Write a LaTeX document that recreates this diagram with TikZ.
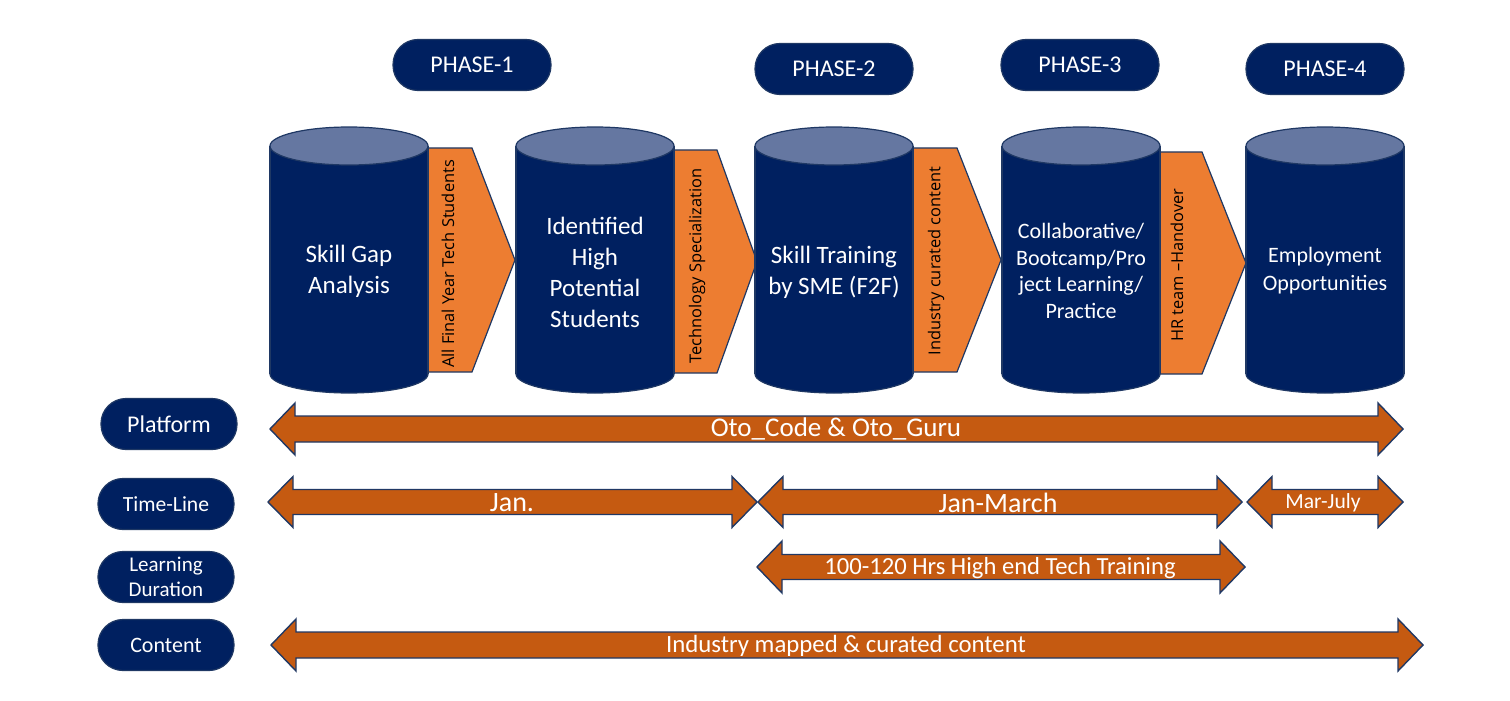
\documentclass[tikz,border=0pt]{standalone}
\usepackage{fontspec}
\setmainfont{Carlito}
\newfontfamily\rotfont{Open Sans}
\definecolor{navy}{HTML}{002060}
\definecolor{cylborder}{HTML}{1F3864}
\definecolor{cyltop}{HTML}{6577A1}
\definecolor{chevfill}{HTML}{ED7D31}
\definecolor{arrfill}{HTML}{C55A11}
\definecolor{arrborder}{HTML}{203864}
\newcommand\mycyl[1]{%
  \fill[navy,draw=cylborder,line width=0.6pt] (#1,374) ellipse[x radius=39.5pt,y radius=9.5pt];
  \fill[navy] ({#1-79},146) rectangle ({#1+79},374);
  \draw[cylborder,line width=0.6pt] ({#1-79},146) -- ({#1-79},374) ({#1+79},146) -- ({#1+79},374);
  \filldraw[fill=cyltop,draw=cylborder,line width=0.6pt] (#1,146) ellipse[x radius=39.5pt,y radius=9.5pt];}
\newcommand\mychev[5]{%
  \filldraw[fill=chevfill,draw=cylborder,line width=0.6pt] (#1,#4) -- (#2,#4) -- (#3,{(#4+#5)/2}) -- (#2,#5) -- (#1,#5) -- cycle;}
\newcommand\dblarr[6]{%
  \filldraw[fill=arrfill,draw=arrborder,line width=0.7pt,line join=miter]
   (#1,#3) -- ({#1+#6},{#3-#4}) -- ({#1+#6},{#3-#5}) -- ({#2-#6},{#3-#5}) -- ({#2-#6},{#3-#4})
   -- (#2,#3) -- ({#2-#6},{#3+#4}) -- ({#2-#6},{#3+#5}) -- ({#1+#6},{#3+#5}) -- ({#1+#6},{#3+#4}) -- cycle;}
\tikzset{
  pill/.style={fill=navy,draw=cylborder,line width=0.6pt,rounded corners=12.5pt,
    minimum width=79pt,minimum height=25.5pt,text=white,align=center,inner sep=0pt},
  rowpill/.style={pill,minimum width=68pt},
  cyltext/.style={text=white,align=center,inner sep=0pt,font=\fontsize{12.5pt}{15.5pt}\selectfont},
  rottext/.style={rotate=90,text=black,inner sep=0pt,font=\rotfont\fontsize{8.2pt}{9pt}\selectfont},
  arrtext/.style={text=white,inner sep=0pt}
}
\begin{document}
\begin{tikzpicture}[x=0.5pt,y=-0.5pt]
\useasboundingbox (0,0) rectangle (1510,701);
% phase pills
\node[pill,font=\fontsize{12pt}{14pt}\selectfont] (p1) at (472,65) {PHASE-1};
\node[pill,font=\fontsize{12pt}{14pt}\selectfont] (p2) at (834,69) {PHASE-2};
\node[pill,font=\fontsize{12pt}{14pt}\selectfont] (p3) at (1080,65) {PHASE-3};
\node[pill,font=\fontsize{12pt}{14pt}\selectfont] (p4) at (1325,69) {PHASE-4};
% chevrons
\mychev{349}{472}{515}{148}{372}
\mychev{595}{717}{757}{150}{373}
\mychev{834}{957}{1001}{148}{372}
\mychev{1081}{1202}{1246}{152}{374}
% cylinders
\mycyl{349}
\mycyl{595}
\mycyl{834}
\mycyl{1081}
\mycyl{1325}
% cylinder texts
\node[cyltext] (c1) at (349,271) {Skill Gap\\Analysis};
\node[cyltext] (c2) at (595,272) {Identified\\High\\Potential\\Students};
\node[cyltext] (c3) at (834,272) {Skill Training\\by SME (F2F)};
\node[cyltext,font=\fontsize{11pt}{13.2pt}\selectfont] (c4) at (1081,271) {Collaborative/\\Bootcamp/Pro\\ject Learning/\\Practice};
\node[cyltext,font=\fontsize{11pt}{14pt}\selectfont] (c5) at (1325,271) {Employment\\Opportunities};
% chevron texts
\node[rottext] (t1) at (448,264) {All Final Year Tech Students};
\node[rottext] (t2) at (697,266) {Technology Specialization};
\node[rottext] (t3) at (936,261) {Industry curated content};
\node[rottext] (t4) at (1177,265) {HR team –Handover};
% row labels
\node[rowpill,font=\fontsize{12pt}{14pt}\selectfont] (l1) at (169,424) {Platform};
\node[rowpill,font=\fontsize{10.8pt}{12pt}\selectfont] (l2) at (166,504) {Time-Line};
\node[rowpill,font=\fontsize{10.5pt}{12.5pt}\selectfont] (l3) at (166,577) {Learning\\Duration};
\node[rowpill,font=\fontsize{11pt}{13pt}\selectfont] (l4) at (166,645) {Content};
% double arrows
\dblarr{270}{1403}{429}{26}{13}{25}
\dblarr{268}{757}{502}{25.5}{12.5}{25}
\dblarr{758}{1242}{502}{25.5}{12.5}{25}
\dblarr{1247}{1403}{502}{25.5}{12.5}{25}
\dblarr{757}{1245}{567}{26}{12.5}{25}
\dblarr{271}{1423}{645}{26}{13}{25}
% arrow texts
\node[arrtext,font=\fontsize{13.5pt}{15pt}\selectfont] (a1) at (836,429) {Oto\_Code \& Oto\_Guru};
\node[arrtext,font=\fontsize{14pt}{15pt}\selectfont] (a2) at (512,503) {Jan.};
\node[arrtext,font=\fontsize{14pt}{15pt}\selectfont] (a3) at (998,503) {Jan-March};
\node[arrtext,font=\fontsize{10.8pt}{12pt}\selectfont] (a4) at (1323,503) {Mar-July};
\node[arrtext,font=\fontsize{12.3pt}{14pt}\selectfont] (a5) at (1000,568) {100-120 Hrs High end Tech Training};
\node[arrtext,font=\fontsize{12.4pt}{14pt}\selectfont] (a6) at (846,646) {Industry mapped \& curated content};
\end{tikzpicture}
\end{document}
